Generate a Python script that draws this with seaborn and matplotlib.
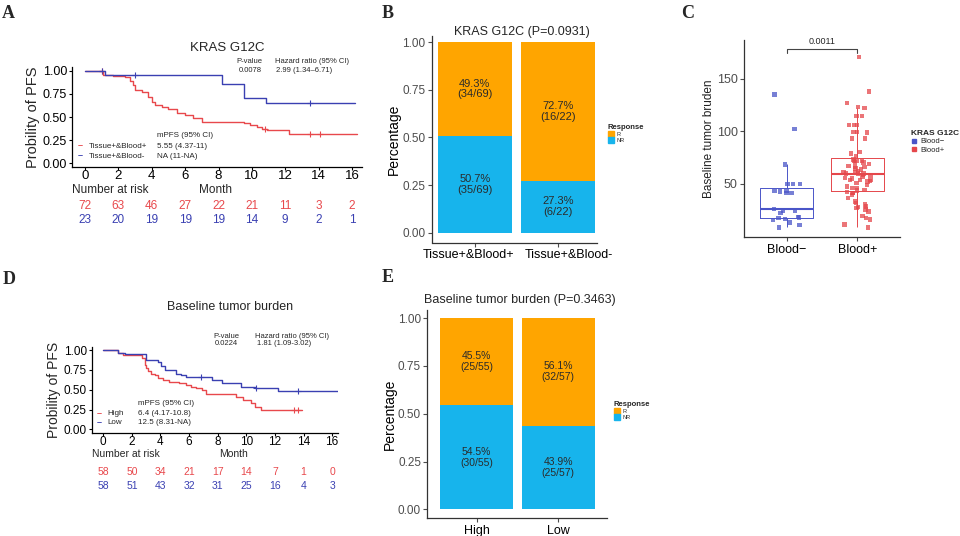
import numpy as np
import pandas as pd
import matplotlib
matplotlib.use("Agg")
import matplotlib.pyplot as plt
import matplotlib.transforms as mtrans
import seaborn as sns
from matplotlib.patches import Patch
from matplotlib.lines import Line2D

sns.set_theme(style="ticks")
plt.rcParams['font.family'] = ['Liberation Sans', 'DejaVu Sans']

W, H = 960, 536
RED = "#E8484C"
NAVY = "#3A40B2"
ORANGE = "#FFA500"
SKY = "#17B4EC"
C_BLUE = "#4A55C8"
C_RED = "#E5474B"
GREY = "#4D4D4D"

# ---------------- data ----------------
month_ticks = [0, 2, 4, 6, 8, 10, 12, 14, 16]

# A: KRAS G12C, Tissue+&Blood+ vs Tissue+&Blood-
a_pos_time = [0, 1.1, 1.7, 2.4, 2.7, 2.85, 3.0, 3.4, 3.8, 4.0, 4.2, 4.6, 5.0, 5.5, 6.0, 6.5, 7.0,
              9.5, 9.9, 10.3, 10.6, 10.9, 12.2]
a_pos_surv = [1.0, 0.96, 0.94, 0.93, 0.89, 0.85, 0.79, 0.77, 0.72, 0.665, 0.63, 0.61, 0.59, 0.54,
              0.52, 0.49, 0.45, 0.43, 0.41, 0.39, 0.375, 0.36, 0.315]
a_pos_end = 16.3
a_pos_cens = [1.0, 10.8, 13.5, 14.1]
a_neg_time = [0, 1.2, 8.2, 9.55, 10.85]
a_neg_surv = [1.0, 0.957, 0.855, 0.71, 0.655]
a_neg_end = 16.2
a_neg_cens = [1.0, 3.0, 13.5]
a_risk_pos = [72, 63, 46, 27, 22, 21, 11, 3, 2]
a_risk_neg = [23, 20, 19, 19, 19, 14, 9, 2, 1]

# D: baseline tumor burden, High vs Low
d_high_time = [0, 1.0, 1.4, 2.7, 2.9, 3.0, 3.1, 3.35, 3.6, 3.8, 4.15, 4.6, 5.3, 5.8, 6.1, 6.5,
               6.9, 7.2, 9.3, 9.8, 10.3, 10.6, 11.0]
d_high_surv = [1.0, 0.97, 0.94, 0.895, 0.81, 0.77, 0.74, 0.705, 0.685, 0.65, 0.62, 0.60, 0.58,
               0.56, 0.54, 0.52, 0.50, 0.445, 0.41, 0.37, 0.33, 0.285, 0.245]
d_high_end = 13.9
d_high_cens = [13.3, 13.6]
d_low_time = [0, 1.0, 1.5, 3.0, 3.8, 4.05, 4.3, 5.1, 5.4, 5.8, 7.6, 8.3, 9.6, 10.6, 12.2]
d_low_surv = [1.0, 0.97, 0.95, 0.88, 0.85, 0.80, 0.745, 0.705, 0.685, 0.655, 0.62, 0.59, 0.54,
              0.52, 0.48]
d_low_end = 16.4
d_low_cens = [6.8, 10.7, 13.6]
d_risk_high = [58, 50, 34, 21, 17, 14, 7, 1, 0]
d_risk_low = [58, 51, 43, 32, 31, 25, 16, 4, 3]

# B / E: response counts
b_groups = ['Tissue+&Blood+', 'Tissue+&Blood-']
b_r = [34, 16]
b_nr = [35, 6]
e_groups = ['High', 'Low']
e_r = [25, 32]
e_nr = [30, 25]

# C: baseline tumor burden by blood status
c_blood_neg = [134.9, 101.9, 68.2, 49.4, 49.4, 49.6, 41.2, 42.8, 42.5, 43.0, 41.0, 23.9, 23.9,
               25.5, 21.8, 18.2, 17.0, 16.0, 17.5, 15.3, 12.8, 10.4, 8.2]
c_blood_pos = [171, 138, 127, 123.3, 122.3, 114.5, 114.5, 105.7, 105.7, 105.7, 99.4, 99.4, 98.8,
               93.1, 93.1, 80.0, 78.5, 76.3,
               73.1, 71.5, 71.5, 71.5, 70.0, 70.0, 68.4, 67.0, 66.0, 66.0, 64.4, 63.5, 62.0, 61.0,
               60.7, 59.7, 59.7, 59.4,
               58.2, 57.0, 56.0, 55.5, 54.9, 53.3, 53.3, 53.3, 52.5, 51.8, 50.5, 48.7, 47.1, 46.0,
               45.6, 44.0, 43.5,
               42.0, 40.9, 40.9, 39.3, 36.2, 33.0, 31.5, 30.0, 28.3, 27.4, 26.8, 25.1, 23.5, 18.8,
               17.2, 15.7, 10.9, 8.2]
c_pvalue = '0.0011'
BRACKET_Y = 178


def fig_axes(fig, left, top, right, bottom):
    return fig.add_axes([left / W, 1 - bottom / H, (right - left) / W, (bottom - top) / H])


def km_curve(ax, times, surv, end, cens, color):
    sns.lineplot(x=times + [end], y=surv + [surv[-1]], drawstyle='steps-post', color=color,
                 linewidth=1.0, estimator=None, sort=False, ax=ax)
    cy = [surv[np.searchsorted(times, c, side='right') - 1] for c in cens]
    sns.scatterplot(x=cens, y=cy, marker='+', color=color, s=14, linewidth=0.8, ax=ax)


def km_axes(ax, xlim, ylim, xsize, ysize):
    ax.set_xlim(*xlim)
    ax.set_ylim(*ylim)
    ax.set_xticks(month_ticks)
    ax.set_yticks([0, 0.25, 0.5, 0.75, 1.0])
    ax.set_yticklabels(['0.00', '0.25', '0.50', '0.75', '1.00'])
    ax.tick_params(axis='x', labelsize=xsize, length=2.5, width=0.8, pad=0, colors='black')
    ax.tick_params(axis='y', labelsize=ysize, length=2.5, width=0.8, pad=1, colors='black')
    for s in ['left', 'bottom']:
        ax.spines[s].set_color('black')
        ax.spines[s].set_linewidth(0.9)
    sns.despine(ax=ax)
    ax.set_xlabel('')


def risk_rows(ax, rows, colors, ys, size):
    for vals, col, y in zip(rows, colors, ys):
        for t, v in zip(month_ticks, vals):
            ax.text(t, y, str(v), color=col, ha='center', va='center', fontsize=size)


def stacked_bar(ax, groups, r, nr, width):
    n = [a + b for a, b in zip(r, nr)]
    frac_r = [a / t for a, t in zip(r, n)]
    frac_nr = [b / t for b, t in zip(nr, n)]
    total = [a + b for a, b in zip(frac_r, frac_nr)]
    sns.barplot(x=groups, y=total, color=ORANGE, saturation=1, width=width, linewidth=0, ax=ax)
    sns.barplot(x=groups, y=frac_nr, color=SKY, saturation=1, width=width, linewidth=0, ax=ax)
    return n, frac_r, frac_nr


def bar_axes(ax, xlim, ylim, label_size):
    ax.set_xlim(*xlim)
    ax.set_ylim(*ylim)
    ax.set_yticks([0, 0.25, 0.5, 0.75, 1.0])
    ax.set_yticklabels(['0.00', '0.25', '0.50', '0.75', '1.00'])
    ax.tick_params(axis='y', labelsize=8.5, colors=GREY, length=3, width=0.8, pad=1.5)
    ax.tick_params(axis='x', labelsize=label_size, labelcolor='black', color=GREY, length=3,
                   width=0.8, pad=2)
    for s in ['left', 'bottom']:
        ax.spines[s].set_color('#333333')
        ax.spines[s].set_linewidth(0.9)
    sns.despine(ax=ax)
    ax.set_xlabel('')
    ax.set_ylabel('Percentage', fontsize=10, color='black', labelpad=1)


def response_legend(ax, x, y):
    handles = [Patch(color=ORANGE, label='R'), Patch(color=SKY, label='NR')]
    leg = ax.legend(handles=handles, title='Response', loc='upper left',
                    bbox_to_anchor=(x / W, 1 - y / H), bbox_transform=fig.transFigure,
                    frameon=False, fontsize=4, title_fontsize=5.5, handlelength=1.1,
                    handleheight=1.1, handletextpad=0.4, labelspacing=0.1, borderpad=0,
                    alignment='left')
    leg.get_title().set_fontweight('bold')


fig = plt.figure(figsize=(9.6, 5.36), dpi=100)

# ---------------- A ----------------
ax = fig_axes(fig, 72, 67, 362, 167)
km_curve(ax, a_pos_time, a_pos_surv, a_pos_end, a_pos_cens, RED)
km_curve(ax, a_neg_time, a_neg_surv, a_neg_end, a_neg_cens, NAVY)
km_axes(ax, (-0.78, 16.6), (-0.043, 1.043), 9.5, 9)
ax.set_ylabel('Probility of PFS', fontsize=10.5, labelpad=2)
ax.text(8.5, 1.25, 'KRAS G12C', ha='center', va='center', fontsize=9.5)
ax.text(9.1, 1.10, 'P-value', ha='left', va='center', fontsize=5.5)
ax.text(9.2, 1.0, '0.0078', ha='left', va='center', fontsize=5.5)
ax.text(11.4, 1.10, 'Hazard ratio (95% CI)', ha='left', va='center', fontsize=5.5)
ax.text(11.45, 1.0, '2.99 (1.34\u20136.71)', ha='left', va='center', fontsize=5.5)
ax.text(4.3, 0.30, 'mPFS (95% CI)', ha='left', va='center', fontsize=5.8)
ax.text(-0.3, 0.185, '\u2013', color=RED, ha='center', va='center', fontsize=6.5, fontweight='bold')
ax.text(-0.3, 0.076, '\u2013', color=NAVY, ha='center', va='center', fontsize=6.5, fontweight='bold')
ax.text(0.24, 0.185, 'Tissue+&Blood+', ha='left', va='center', fontsize=5.8)
ax.text(0.24, 0.076, 'Tissue+&Blood-', ha='left', va='center', fontsize=5.8)
ax.text(4.3, 0.185, '5.55 (4.37-11)', ha='left', va='center', fontsize=5.8)
ax.text(4.3, 0.076, 'NA (11-NA)', ha='left', va='center', fontsize=5.8)
ax.text(-0.78, -0.295, 'Number at risk', ha='left', va='center', fontsize=8.5)
ax.text(7.8, -0.295, 'Month', ha='center', va='center', fontsize=8.5)
risk_rows(ax, [a_risk_pos, a_risk_neg], [RED, NAVY], [-0.467, -0.62], 8.5)

# ---------------- D ----------------
ax = fig_axes(fig, 91.7, 347, 338, 432.7)
km_curve(ax, d_high_time, d_high_surv, d_high_end, d_high_cens, RED)
km_curve(ax, d_low_time, d_low_surv, d_low_end, d_low_cens, NAVY)
km_axes(ax, (-0.81, 16.41), (-0.043, 1.04), 8.5, 8.5)
ax.set_ylabel('Probility of PFS', fontsize=10, labelpad=2)
ax.text(8.86, 1.546, 'Baseline tumor burden', ha='center', va='center', fontsize=9)
ax.text(7.69, 1.177, 'P-value', ha='left', va='center', fontsize=5.5)
ax.text(7.76, 1.09, '0.0224', ha='left', va='center', fontsize=5.5)
ax.text(10.6, 1.177, 'Hazard ratio (95% CI)', ha='left', va='center', fontsize=5.5)
ax.text(10.75, 1.09, '1.81 (1.09-3.02)', ha='left', va='center', fontsize=5.5)
ax.text(2.45, 0.32, 'mPFS (95% CI)', ha='left', va='center', fontsize=5.8)
ax.text(-0.3, 0.20, '\u2013', color=RED, ha='center', va='center', fontsize=6.5, fontweight='bold')
ax.text(-0.3, 0.083, '\u2013', color=NAVY, ha='center', va='center', fontsize=6.5, fontweight='bold')
ax.text(0.28, 0.20, 'High', ha='left', va='center', fontsize=5.8)
ax.text(0.28, 0.083, 'Low', ha='left', va='center', fontsize=5.8)
ax.text(2.45, 0.20, '6.4 (4.17-10.8)', ha='left', va='center', fontsize=5.8)
ax.text(2.45, 0.083, '12.5 (8.31-NA)', ha='left', va='center', fontsize=5.8)
ax.text(-0.81, -0.315, 'Number at risk', ha='left', va='center', fontsize=7.5)
ax.text(9.07, -0.315, 'Month', ha='center', va='center', fontsize=7.5)
risk_rows(ax, [d_risk_high, d_risk_low], [RED, NAVY], [-0.535, -0.715], 7.5)

# ---------------- B ----------------
ax_b = fig_axes(fig, 431.7, 36, 597, 242.5)
ax = ax_b
n, fr, fnr = stacked_bar(ax, b_groups, b_r, b_nr, 0.9)
for i in range(len(b_groups)):
    ax.text(i, fnr[i] + fr[i] / 2, f"{fr[i] * 100:.1f}%\n({b_r[i]}/{n[i]})", ha='center',
            va='center', fontsize=8, color='#2B2B2B', linespacing=1.1)
    ax.text(i, fnr[i] / 2, f"{fnr[i] * 100:.1f}%\n({b_nr[i]}/{n[i]})", ha='center',
            va='center', fontsize=8, color='#2B2B2B', linespacing=1.1)
bar_axes(ax, (-0.52, 1.47), (-0.051, 1.032), 9)
ax.text(0.548, 1.019, 'KRAS G12C (P=0.0931)', transform=ax.transAxes, ha='center',
        va='center', fontsize=9)
response_legend(ax, 605, 121)

# ---------------- E ----------------
ax = fig_axes(fig, 427.3, 310, 606.7, 518.3)
n, fr, fnr = stacked_bar(ax, e_groups, e_r, e_nr, 0.9)
for i in range(len(e_groups)):
    ax.text(i, fnr[i] + fr[i] / 2, f"{fr[i] * 100:.1f}%\n({e_r[i]}/{n[i]})", ha='center',
            va='center', fontsize=7.5, color='#2B2B2B', linespacing=1.1)
    ax.text(i, fnr[i] / 2, f"{fnr[i] * 100:.1f}%\n({e_nr[i]}/{n[i]})", ha='center',
            va='center', fontsize=7.5, color='#2B2B2B', linespacing=1.1)
bar_axes(ax, (-0.605, 1.593), (-0.047, 1.043), 9)
ax.text(0.514, 1.05, 'Baseline tumor burden (P=0.3463)', transform=ax.transAxes,
        ha='center', va='center', fontsize=9)
response_legend(ax, 611, 398)

# ---------------- C ----------------
ax = fig_axes(fig, 744, 40, 900, 237)
df_c = pd.DataFrame({
    'group': ['Blood\u2212'] * len(c_blood_neg) + ['Blood+'] * len(c_blood_pos),
    'burden': c_blood_neg + c_blood_pos,
})
pal = {'Blood\u2212': C_BLUE, 'Blood+': C_RED}
sns.boxplot(data=df_c, x='group', y='burden', hue='group', palette=pal, fill=False,
            width=0.76, linewidth=0.7, showfliers=False, legend=False,
            medianprops={'linewidth': 1.5}, capprops={'linewidth': 0}, ax=ax)
np.random.seed(7)
sns.stripplot(data=df_c, x='group', y='burden', hue='group', palette=pal, marker='s',
              size=3.2, jitter=0.2, alpha=0.75, linewidth=0, legend=False, ax=ax)
ax.plot([0, 0, 1, 1], [BRACKET_Y - 3.5, BRACKET_Y, BRACKET_Y, BRACKET_Y - 3.5],
        color='#444444', linewidth=0.8)
ax.text(0.5, BRACKET_Y + 3, c_pvalue, ha='center', va='bottom', fontsize=6.5)
ax.set_xlim(-0.6, 1.6)
ax.set_ylim(-1, 187)
ax.set_yticks([50, 100, 150])
ax.tick_params(axis='y', labelsize=9, colors=GREY, length=3, width=0.8, pad=1.5)
ax.tick_params(axis='x', labelsize=9, labelcolor='black', color=GREY, length=3, width=0.8, pad=2)
for s in ['left', 'bottom']:
    ax.spines[s].set_color('#333333')
    ax.spines[s].set_linewidth(0.9)
sns.despine(ax=ax)
ax.set_xlabel('')
ax.set_ylabel('Baseline tumor bruden', fontsize=8.5, color='#222222', labelpad=1)
handles = [Line2D([], [], marker='s', linestyle='', color=C_BLUE, markersize=3, label='Blood\u2212'),
           Line2D([], [], marker='s', linestyle='', color=C_RED, markersize=3, label='Blood+')]
leg = ax.legend(handles=handles, title='KRAS G12C', loc='upper left',
                bbox_to_anchor=(907 / W, 1 - 126 / H), bbox_transform=fig.transFigure,
                frameon=False, fontsize=5.5, title_fontsize=6, handlelength=0.8,
                handletextpad=0.5, labelspacing=0.15, borderpad=0, alignment='left')
leg.get_title().set_fontweight('bold')

# ---------------- panel letters ----------------
for letter, x, y in [('A', 8, 13), ('B', 388, 13), ('C', 688, 13), ('D', 9, 279), ('E', 388, 277)]:
    fig.text(x / W, 1 - y / H, letter, ha='center', va='center', fontsize=13,
             fontweight='bold', family=['Liberation Serif', 'DejaVu Serif'])

# the two long group names in B sit pushed apart, as in the original layout
fig.canvas.draw()
for lab, dx in zip(ax_b.get_xticklabels(), [-6, 11]):
    lab.set_transform(lab.get_transform() + mtrans.ScaledTranslation(dx / 100, 0, fig.dpi_scale_trans))

fig.savefig('out.png', dpi=100)
